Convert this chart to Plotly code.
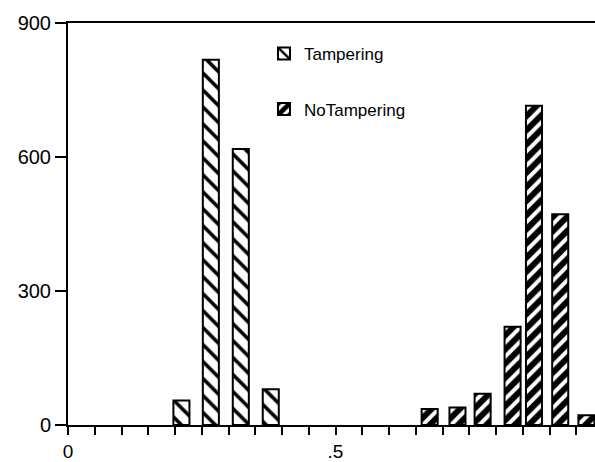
import plotly.graph_objects as go

# Data
tamper_x = [0.212, 0.267, 0.323, 0.379]
tamper_y = [55, 818, 618, 80]
notamper_x = [0.676, 0.728, 0.775, 0.831, 0.871, 0.920, 0.969]
notamper_y = [36, 39, 70, 220, 715, 472, 22]

x_tickvals = [i * 0.05 for i in range(20)]
x_ticktext = ["0" if i == 0 else (".5" if i == 10 else "") for i in range(20)]
y_tickvals = [0, 300, 600, 900]
y_ticktext = ["0", "300", "600", "900"]

FONT = "Liberation Sans, Arial, Helvetica, sans-serif"
W, H = 595, 462
L, R, T, B = 68, 0, 23, 35
PW, PH = W - L - R, H - T - B

def px_to_paper_x(px):
    return (px - L) / PW

def px_to_paper_y(py):
    return 1 - (py - T) / PH

fig = go.Figure()
fig.add_trace(go.Bar(
    x=tamper_x, y=tamper_y, width=0.03, name="Tampering",
    marker=dict(color="white", line=dict(color="black", width=2),
                pattern=dict(shape="\\", fgcolor="black", bgcolor="white",
                             size=12, solidity=0.3, fgopacity=1)),
    legend="legend", showlegend=True,
))
fig.add_trace(go.Bar(
    x=notamper_x, y=notamper_y, width=0.03, name="NoTampering",
    marker=dict(color="white", line=dict(color="black", width=2),
                pattern=dict(shape="/", fgcolor="black", bgcolor="white",
                             size=10, solidity=0.6, fgopacity=1)),
    legend="legend2", showlegend=True,
))

fig.update_layout(
    width=W, height=H,
    showlegend=True,
    margin=dict(l=L, r=R, t=T, b=B, pad=0),
    paper_bgcolor="white", plot_bgcolor="white",
    font=dict(family=FONT, size=18, color="black"),
    barmode="overlay",
    legend=dict(x=px_to_paper_x(264), y=px_to_paper_y(54), xanchor="left", yanchor="middle",
                bgcolor="rgba(0,0,0,0)", borderwidth=0, font=dict(size=17, family=FONT)),
    legend2=dict(x=px_to_paper_x(264), y=px_to_paper_y(110), xanchor="left", yanchor="middle",
                 bgcolor="rgba(0,0,0,0)", borderwidth=0, font=dict(size=17, family=FONT)),
    xaxis=dict(range=[0, PW / 535], tickvals=x_tickvals, ticktext=x_ticktext,
               ticks="outside", ticklen=8, tickwidth=2, tickcolor="black",
               showline=True, linecolor="black", linewidth=2, mirror=True,
               showgrid=False, zeroline=False, tickfont=dict(size=19)),
    yaxis=dict(range=[0, 900], tickvals=y_tickvals, ticktext=y_ticktext,
               ticks="outside", ticklen=11, tickwidth=2, tickcolor="black",
               showline=True, linecolor="black", linewidth=2,
               showgrid=False, zeroline=False, tickfont=dict(size=20)),
)

fig.write_html(
    "out.html",
    config={"displayModeBar": False},
    post_script="document.body.style.margin='0';document.body.style.overflow='hidden';",
)
